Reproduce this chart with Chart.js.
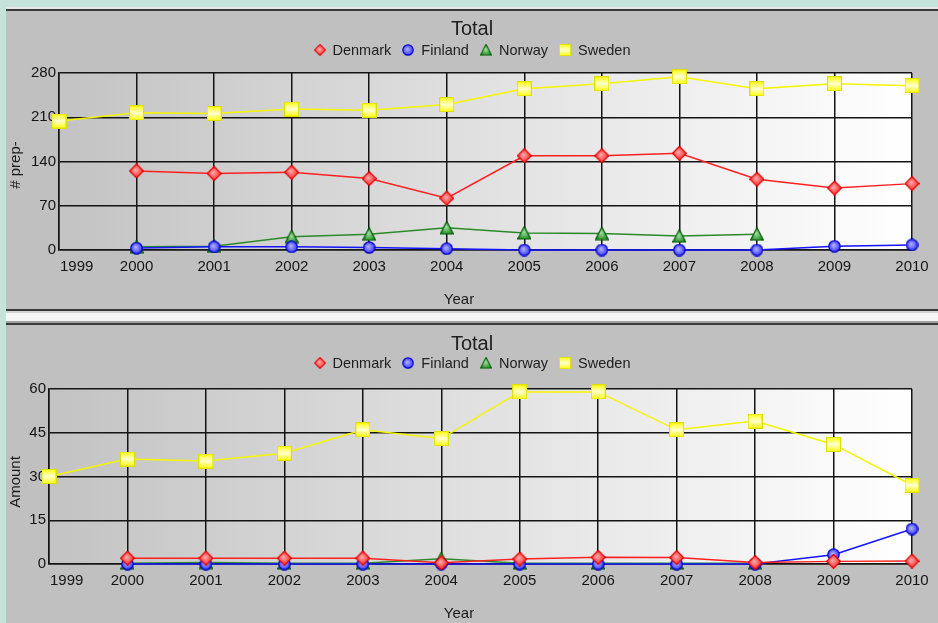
<!DOCTYPE html>
<html><head><meta charset="utf-8">
<script src="https://cdn.jsdelivr.net/npm/chart.js@4.4.1/dist/chart.umd.min.js"></script>
<style>
html,body{margin:0;padding:0}
body{width:938px;height:623px;overflow:hidden;position:relative;background:#c6e3db;font-family:"Liberation Sans",Arial,sans-serif;color:#1a1a1a}
.bar{position:absolute;left:6px;width:932px}
.panel{position:absolute;left:6px;width:932px;height:298px;background:#c0c0c0}
canvas.chart{position:absolute;left:6px;width:932px;height:298px}
.title{position:absolute;left:6px;width:932px;text-align:center;font-size:20px;line-height:24px;color:#202020}
.legend{position:absolute;left:6px;width:932px;display:flex;justify-content:center;align-items:center;font-size:14.5px;line-height:16px;color:#202020}
.legend .item{display:flex;align-items:center;margin:0 5.5px}
.legend img{margin-right:7px;display:block}
.xt{position:absolute;left:6px;width:932px;text-align:center;font-size:15px;line-height:18px;padding-left:0}
.yt{position:absolute;font-size:15px;line-height:18px;white-space:nowrap;transform:translate(-50%,-50%) rotate(-90deg)}
</style></head>
<body>
<div class="bar" style="top:7px;height:2px;background:#e6e6e6"></div>
<div class="bar" style="top:9px;height:2px;background:#3a3a3a"></div>
<div class="panel" style="top:11px"></div>
<div class="bar" style="top:309px;height:2px;background:#3a3a3a"></div>
<div class="bar" style="top:311px;height:2px;background:#d2d2d2"></div>
<div class="bar" style="top:313px;height:8px;background:#f6f6f6"></div>
<div class="bar" style="top:321px;height:2px;background:#a0a0a0"></div>
<div class="bar" style="top:323px;height:2px;background:#3a3a3a"></div>
<div class="panel" style="top:325px"></div>

<canvas id="c1" class="chart" width="932" height="298" style="top:11px"></canvas>
<canvas id="c2" class="chart" width="932" height="298" style="top:325px"></canvas>

<div class="title" style="top:16px">Total</div>
<div class="legend" id="lg1" style="top:42px"></div>
<div class="xt" style="top:290px;left:-7px">Year</div>
<div class="yt" style="left:15px;top:165px"># prep-</div>

<div class="title" style="top:331px">Total</div>
<div class="legend" id="lg2" style="top:355px"></div>
<div class="xt" style="top:604px;left:-7px">Year</div>
<div class="yt" style="left:15px;top:482px">Amount</div>

<script>
// ---- data ----
const years = ['1999','2000','2001','2002','2003','2004','2005','2006','2007','2008','2009','2010'];
const seriesNames = ['Denmark','Finland','Norway','Sweden'];

const prepDenmark = [null,125,121,123,113,82,149,149,153,112,98,105];
const prepFinland = [null,3,5,5,4,2,0,0,0,0,6,8];
const prepNorway  = [null,5,6,21,25,35,27,26,22,25,null,null];
const prepSweden  = [204,217,216,223,221,230,255,263,274,255,263,260];

const amountDenmark = [null,2,2,2,2,0.4,1.7,2.3,2.2,0.5,0.9,1];
const amountFinland = [null,0,0,0,0,0,0,0,0,0,3.2,12];
const amountNorway  = [null,0.3,0.5,0.3,0.3,1.8,0.3,0.3,0.3,0.3,null,null];
const amountSweden  = [30,36,35.3,38,46,43,59,59,46,49,41,27];

const prepTicks = [0,70,140,210,280];
const amountTicks = [0,15,30,45,60];

// ---- markers ----
function mk(shape, fill, light, stroke, s){
  const c=document.createElement('canvas'); c.width=s; c.height=s;
  const x=c.getContext('2d'); const h=s/2;
  x.beginPath();
  if(shape==='diamond'){x.moveTo(h,0.5);x.lineTo(s-0.5,h);x.lineTo(h,s-0.5);x.lineTo(0.5,h);x.closePath();}
  else if(shape==='circle'){x.arc(h,h,h-0.8,0,Math.PI*2);}
  else if(shape==='triangle'){x.moveTo(h,0.5);x.lineTo(s-0.5,s-1);x.lineTo(0.5,s-1);x.closePath();}
  else {x.rect(0.5,0.5,s-1,s-1);}
  let g;
  if(shape==='rect'){g=x.createLinearGradient(0,0,0,s);g.addColorStop(0,fill);g.addColorStop(0.5,light);g.addColorStop(1,fill);}
  else {g=x.createRadialGradient(h*0.85,h*0.85,0,h,h,h);g.addColorStop(0,light);g.addColorStop(1,fill);}
  x.fillStyle=g; x.fill(); x.lineWidth=1.2; x.strokeStyle=stroke; x.stroke();
  return c;
}
const markers = {
  Denmark: mk('diamond','#ff1a1a','#ffb0b0','#e00000',15),
  Finland: mk('circle','#2a2aff','#b8b8ff','#0000c8',13),
  Norway:  mk('triangle','#1f8a1f','#a8e0a8','#005a00',14),
  Sweden:  mk('rect','#ffff00','#ffffd0','#e0e000',15)
};
const lineColors = {Denmark:'#ff2020',Finland:'#1414ff',Norway:'#2a8a2a',Sweden:'#f5f500'};

function buildLegend(id){
  const el=document.getElementById(id);
  seriesNames.forEach(n=>{
    const it=document.createElement('span'); it.className='item';
    const img=document.createElement('img'); img.src=markers[n].toDataURL(); img.width=12; img.height=12;
    it.appendChild(img); it.appendChild(document.createTextNode(n)); el.appendChild(it);
  });
}
buildLegend('lg1'); buildLegend('lg2');

const plotBg = {
  id:'plotBg',
  beforeDraw(chart){
    const {ctx, chartArea:a}=chart;
    const g=ctx.createLinearGradient(a.left,0,a.right,0);
    g.addColorStop(0,'#c3c3c3'); g.addColorStop(1,'#ffffff');
    ctx.save(); ctx.fillStyle=g; ctx.fillRect(a.left,a.top,a.right-a.left,a.bottom-a.top); ctx.restore();
    const s=chart.scales.x; const items=s.getLabelItems();
    if(items.length){ items[0].options.textAlign='left'; items[0].options.translation[0]=s.left+1; }
  }
};

function makeChart(id, values, ticks, yWidth, topPad){
  const ds = seriesNames.map((n,i)=>({
    label:n, data:values[i], borderColor:lineColors[n], backgroundColor:lineColors[n],
    borderWidth:1.5, pointStyle:markers[n], pointRadius:7, tension:0, clip:false, spanGaps:false
  }));
  const gridColor='#141414';
  return new Chart(document.getElementById(id),{
    type:'line',
    data:{labels:years, datasets:ds},
    plugins:[plotBg],
    options:{
      responsive:false, animation:false, events:[],
      layout:{padding:{top:topPad,right:26,bottom:0,left:0}},
      plugins:{legend:{display:false},title:{display:false},tooltip:{enabled:false}},
      scales:{
        x:{
          type:'category', offset:false,
          grid:{color:gridColor,lineWidth:1.5,drawTicks:false},
          border:{display:true,color:gridColor,width:1.5},
          ticks:{color:'#141414',font:{family:'"Liberation Sans", Arial, sans-serif',size:15},padding:8,autoSkip:false,maxRotation:0},
          afterFit(s){ s.height=59; s.paddingLeft=0; s.paddingRight=0; }
        },
        y:{
          min:ticks[0], max:ticks[ticks.length-1],
          afterBuildTicks(s){ s.ticks = ticks.map(v=>({value:v})); },
          grid:{color:gridColor,lineWidth:1.5,drawTicks:false},
          border:{display:true,color:gridColor,width:1.5},
          ticks:{color:'#141414',font:{family:'"Liberation Sans", Arial, sans-serif',size:15},padding:3},
          afterFit(s){ s.width=yWidth; s.paddingTop=0; s.paddingBottom=0; }
        }
      }
    }
  });
}

makeChart('c1',[prepDenmark,prepFinland,prepNorway,prepSweden],prepTicks,53,62);
makeChart('c2',[amountDenmark,amountFinland,amountNorway,amountSweden],amountTicks,43,64);
</script>
</body></html>
